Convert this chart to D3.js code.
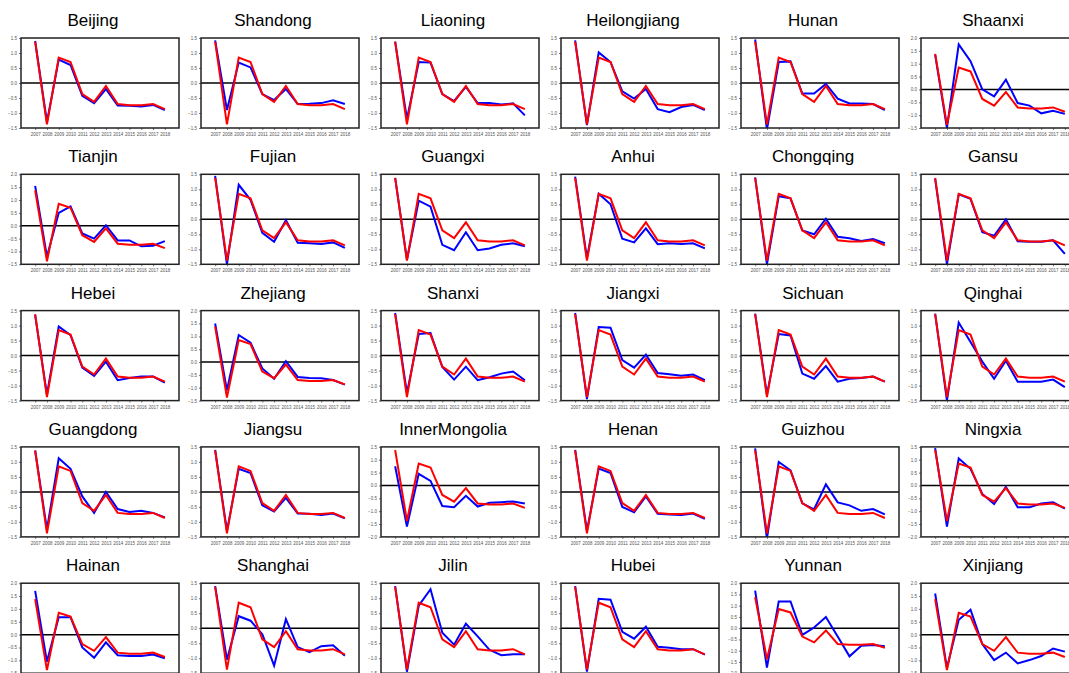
<!DOCTYPE html>
<html>
<head>
<meta charset="utf-8">
<script src="https://cdn.jsdelivr.net/npm/d3@7"></script>
<style>
  body { margin: 0; background: #fff; }
  svg { display: block; }
  .tick text { fill: #555; }
</style>
</head>
<body>
<div id="chart"></div>
<script>
const years = [2007, 2008, 2009, 2010, 2011, 2012, 2013, 2014, 2015, 2016, 2017, 2018];
const provinces = [
  'Beijing', 'Shandong', 'Liaoning', 'Heilongjiang', 'Hunan', 'Shaanxi',
  'Tianjin', 'Fujian', 'Guangxi', 'Anhui', 'Chongqing', 'Gansu',
  'Hebei', 'Zhejiang', 'Shanxi', 'Jiangxi', 'Sichuan', 'Qinghai',
  'Guangdong', 'Jiangsu', 'InnerMongolia', 'Henan', 'Guizhou', 'Ningxia',
  'Hainan', 'Shanghai', 'Jilin', 'Hubei', 'Yunnan', 'Xinjiang'
];
// red line, same in every panel
const national = [1.38, -1.38, 0.85, 0.7, -0.37, -0.63, -0.1, -0.7, -0.74, -0.74, -0.7, -0.87];
// blue lines
const Beijing = [1.4, -1.3, 0.78, 0.6, -0.43, -0.67, -0.2, -0.75, -0.76, -0.78, -0.73, -0.9];
const Shandong = [1.42, -0.9, 0.68, 0.52, -0.37, -0.57, -0.2, -0.7, -0.69, -0.67, -0.58, -0.7];
const Liaoning = [1.38, -1.2, 0.7, 0.68, -0.37, -0.6, -0.13, -0.67, -0.67, -0.72, -0.68, -1.08];
const Heilongjiang = [1.42, -1.4, 1.02, 0.7, -0.28, -0.52, -0.2, -0.87, -0.97, -0.8, -0.73, -0.9];
const Hunan = [1.45, -1.55, 0.7, 0.72, -0.35, -0.35, -0.03, -0.52, -0.68, -0.68, -0.7, -0.9];
const Shaanxi = [1.35, -1.5, 1.75, 1.1, 0.0, -0.27, 0.38, -0.53, -0.63, -0.93, -0.83, -0.95];
const Tianjin = [1.55, -1.2, 0.5, 0.75, -0.3, -0.5, 0.02, -0.57, -0.57, -0.8, -0.78, -0.6];
const Fujian = [1.45, -1.5, 1.15, 0.65, -0.45, -0.75, -0.03, -0.78, -0.8, -0.82, -0.77, -0.95];
const Guangxi = [1.38, -1.35, 0.62, 0.42, -0.85, -1.03, -0.43, -1.03, -0.97, -0.85, -0.8, -0.9];
const Anhui = [1.42, -1.3, 0.85, 0.5, -0.65, -0.77, -0.3, -0.83, -0.8, -0.82, -0.8, -0.97];
const Chongqing = [1.4, -1.5, 0.77, 0.7, -0.37, -0.5, 0.02, -0.58, -0.63, -0.72, -0.66, -0.8];
const Gansu = [1.35, -1.5, 0.83, 0.68, -0.43, -0.55, 0.0, -0.73, -0.75, -0.75, -0.7, -1.15];
const Hebei = [1.35, -1.3, 0.97, 0.68, -0.4, -0.68, -0.2, -0.82, -0.75, -0.7, -0.7, -0.9];
const Zhejiang = [1.5, -1.1, 1.05, 0.75, -0.25, -0.65, 0.03, -0.58, -0.62, -0.63, -0.7, -0.88];
const Shanxi = [1.42, -1.25, 0.72, 0.75, -0.38, -0.8, -0.37, -0.82, -0.72, -0.6, -0.53, -0.82];
const Jiangxi = [1.42, -1.45, 0.95, 0.93, -0.15, -0.4, 0.03, -0.58, -0.62, -0.67, -0.63, -0.82];
const Sichuan = [1.4, -1.3, 0.72, 0.67, -0.6, -0.77, -0.35, -0.87, -0.77, -0.75, -0.7, -0.87];
const Qinghai = [1.4, -1.5, 1.1, 0.45, -0.2, -0.77, -0.17, -0.87, -0.87, -0.87, -0.8, -1.05];
const Guangdong = [1.38, -1.25, 1.12, 0.77, -0.15, -0.7, 0.0, -0.57, -0.67, -0.63, -0.7, -0.85];
const Jiangsu = [1.4, -1.3, 0.77, 0.63, -0.45, -0.65, -0.2, -0.72, -0.73, -0.77, -0.72, -0.88];
const InnerMongolia = [0.75, -1.6, 0.45, 0.18, -0.8, -0.85, -0.4, -0.82, -0.67, -0.65, -0.62, -0.7];
const Henan = [1.4, -1.3, 0.78, 0.63, -0.5, -0.68, -0.15, -0.73, -0.75, -0.77, -0.72, -0.9];
const Guizhou = [1.45, -1.55, 1.0, 0.72, -0.38, -0.58, 0.25, -0.35, -0.45, -0.63, -0.57, -0.75];
const Ningxia = [1.45, -1.6, 1.05, 0.65, -0.33, -0.72, -0.05, -0.85, -0.85, -0.7, -0.65, -0.9];
const Hainan = [1.7, -1.05, 0.68, 0.68, -0.5, -0.9, -0.3, -0.8, -0.83, -0.83, -0.77, -0.92];
const Shanghai = [1.4, -1.05, 0.4, 0.25, -0.2, -1.25, 0.3, -0.63, -0.8, -0.6, -0.57, -0.92];
const Jilin = [1.4, -1.45, 0.75, 1.3, -0.15, -0.55, 0.15, -0.27, -0.72, -0.9, -0.87, -0.87];
const Hubei = [1.4, -1.45, 0.98, 0.95, -0.12, -0.35, 0.05, -0.62, -0.65, -0.7, -0.7, -0.88];
const Yunnan = [1.67, -1.75, 1.19, 1.19, -0.3, 0.03, 0.5, -0.37, -1.25, -0.78, -0.75, -0.8];
const Xinjiang = [1.6, -1.3, 0.58, 0.97, -0.37, -0.99, -0.7, -1.12, -0.99, -0.83, -0.54, -0.66];

const provinceSeries = [
  Beijing, Shandong, Liaoning, Heilongjiang, Hunan, Shaanxi,
  Tianjin, Fujian, Guangxi, Anhui, Chongqing, Gansu,
  Hebei, Zhejiang, Shanxi, Jiangxi, Sichuan, Qinghai,
  Guangdong, Jiangsu, InnerMongolia, Henan, Guizhou, Ningxia,
  Hainan, Shanghai, Jilin, Hubei, Yunnan, Xinjiang
];
// y range per panel (default -1.5..1.5)
const yLow = { InnerMongolia: -2, Ningxia: -2, Yunnan: -2 };
const yHigh = { Shaanxi: 2, Tianjin: 2, Zhejiang: 2, Hainan: 2, Yunnan: 2, Xinjiang: 2 };

const W = 1069, H = 673;
const cols = 6;
const pw = 158, ph = 90;

const svg = d3.select('#chart')
  .append('svg')
  .attr('width', W)
  .attr('height', H)
  .style('font-family', '"Liberation Sans", Arial, sans-serif');

provinces.forEach((name, i) => {
  const c = i % cols, r = Math.floor(i / cols);
  const left = 21 + 180 * c;
  const top = 38 + 136.3 * r;
  const g = svg.append('g').attr('transform', `translate(${left},${top})`);

  const lo = yLow[name] ?? -1.5, hi = yHigh[name] ?? 1.5;
  const x = d3.scaleLinear().domain([2005.8, 2019.2]).range([0, pw]);
  const y = d3.scaleLinear().domain([lo, hi]).range([ph, 0]);

  // title
  g.append('text')
    .attr('x', 72)
    .attr('y', -12)
    .attr('text-anchor', 'middle')
    .attr('font-size', 17)
    .attr('fill', '#000')
    .text(name);

  // axes
  const ticks = d3.range(lo, hi + 0.01, 0.5);
  g.append('g')
    .call(d3.axisLeft(y).tickValues(ticks).tickSize(2).tickFormat(d3.format('.1f')))
    .call(a => a.select('.domain').remove())
    .call(a => a.selectAll('line').attr('stroke', '#777'))
    .selectAll('text').attr('font-size', 4.5).attr('dx', 1);
  g.append('g')
    .attr('transform', `translate(0,${ph})`)
    .call(d3.axisBottom(x).tickValues(years).tickSize(2).tickFormat(d3.format('d')))
    .call(a => a.select('.domain').remove())
    .call(a => a.selectAll('line').attr('stroke', '#777'))
    .selectAll('text').attr('font-size', 4.5).attr('dy', 3);

  // clip
  const cid = 'clip' + i;
  g.append('clipPath').attr('id', cid)
    .append('rect').attr('width', pw).attr('height', ph);

  // zero line
  g.append('line')
    .attr('x1', 0).attr('x2', pw)
    .attr('y1', y(0)).attr('y2', y(0))
    .attr('stroke', '#000').attr('stroke-width', 1.5);

  const line = d3.line()
    .x((d, k) => x(years[k]))
    .y(d => y(d));

  g.append('path')
    .datum(provinceSeries[i])
    .attr('clip-path', `url(#${cid})`)
    .attr('d', line)
    .attr('fill', 'none')
    .attr('stroke', '#0000ff')
    .attr('stroke-width', 2);
  g.append('path')
    .datum(national)
    .attr('clip-path', `url(#${cid})`)
    .attr('d', line)
    .attr('fill', 'none')
    .attr('stroke', '#ff0000')
    .attr('stroke-width', 2);

  // frame
  g.append('rect')
    .attr('width', pw).attr('height', ph)
    .attr('fill', 'none')
    .attr('stroke', '#222')
    .attr('stroke-width', 1.5);
});
</script>
</body>
</html>
